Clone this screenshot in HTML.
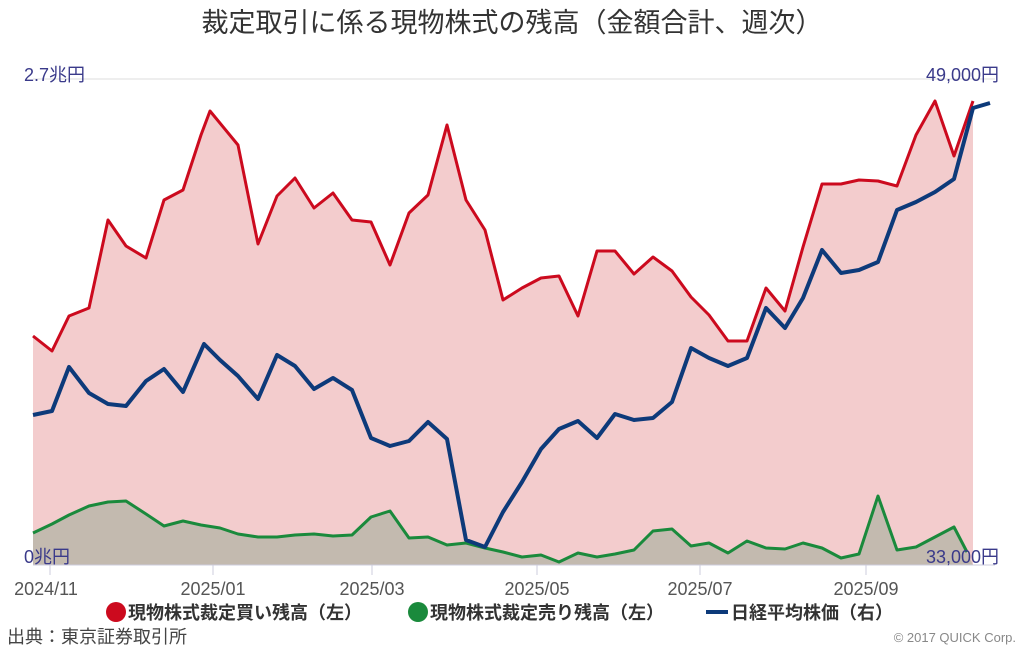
<!DOCTYPE html>
<html><head><meta charset="utf-8"><style>
body{margin:0;background:#fff;width:1024px;height:658px;overflow:hidden;font-family:"Liberation Sans","Noto Sans CJK JP",sans-serif}
</style></head><body>
<svg width="1024" height="658" xmlns="http://www.w3.org/2000/svg" style="font-family:'Liberation Sans','Noto Sans CJK JP',sans-serif">
<text x="512" y="32" text-anchor="middle" font-size="27" fill="#333">裁定取引に係る現物株式の残高（金額合計、週次）</text>
<line x1="33" y1="79" x2="995" y2="79" stroke="#ddd"/>
<polygon fill="#f3cccd" points="33,565 33,336 52,351 69,316 89,308 108,220 126,246 146,258 164,200 183,190 201,135 210,111 238,145 258,244 277,196 295,178 314,208 333,193 352,220 371,222 390,265 409,213 428,195 447,125 466,200 485,230 503,300 522,288 541,278 559,276 578,316 597,251 615,251 634,274 653,257 672,271 691,297 709,315 728,341 747,341 766,288 785,311 803,247 822,184 841,184 859,180 878,181 897,186 916,135 935,101 954,156 973,101 973,565"/>
<polygon fill="#c3baaf" points="33,565 33,533 52,524 69,515 89,506 108,502 126,501 146,514 164,526 183,521 201,525 220,528 238,534 258,537 277,537 295,535 314,534 333,536 352,535 371,517 390,511 409,538 428,537 447,545 466,543 485,548 503,552 522,557 541,555 559,562 578,553 597,557 615,554 634,550 653,531 672,529 691,546 709,543 728,553 747,541 766,548 785,549 803,543 822,548 841,558 859,554 878,496 897,550 916,547 935,537 954,527 967,552 973,565"/>
<line x1="33" y1="565" x2="995" y2="565" stroke="#ccd" />
<polyline fill="none" stroke="#cc0a1e" stroke-width="3" stroke-linejoin="round" points="33,336 52,351 69,316 89,308 108,220 126,246 146,258 164,200 183,190 201,135 210,111 238,145 258,244 277,196 295,178 314,208 333,193 352,220 371,222 390,265 409,213 428,195 447,125 466,200 485,230 503,300 522,288 541,278 559,276 578,316 597,251 615,251 634,274 653,257 672,271 691,297 709,315 728,341 747,341 766,288 785,311 803,247 822,184 841,184 859,180 878,181 897,186 916,135 935,101 954,156 973,101"/>
<polyline fill="none" stroke="#1a8a3c" stroke-width="3" stroke-linejoin="round" points="33,533 52,524 69,515 89,506 108,502 126,501 146,514 164,526 183,521 201,525 220,528 238,534 258,537 277,537 295,535 314,534 333,536 352,535 371,517 390,511 409,538 428,537 447,545 466,543 485,548 503,552 522,557 541,555 559,562 578,553 597,557 615,554 634,550 653,531 672,529 691,546 709,543 728,553 747,541 766,548 785,549 803,543 822,548 841,558 859,554 878,496 897,550 916,547 935,537 954,527 967,552"/>
<polyline fill="none" stroke="#0d3a7a" stroke-width="4" stroke-linejoin="round" points="33,415 52,411 69,367 89,393 108,404 126,406 146,381 164,369 183,392 204,344 220,360 238,376 258,399 277,355 295,366 314,389 333,378 352,390 371,438 390,446 409,441 428,422 447,439 466,540 485,547 503,512 522,482 541,449 559,429 578,421 597,438 615,414 634,420 653,418 672,402 691,348 709,358 728,366 747,358 766,308 785,328 803,298 822,250 841,273 859,270 878,262 897,210 916,202 935,192 954,179 973,108 990,103"/>
<g font-size="18" fill="#3a3a8a">
<text x="24" y="81">2.7兆円</text>
<text x="24" y="563">0兆円</text>
<text x="999" y="81" text-anchor="end">49,000円</text>
<text x="999" y="563" text-anchor="end">33,000円</text>
</g>
<g stroke="#ccd"><line x1="50" y1="565" x2="50" y2="575"/><line x1="213" y1="565" x2="213" y2="575"/><line x1="372" y1="565" x2="372" y2="575"/><line x1="537" y1="565" x2="537" y2="575"/><line x1="700" y1="565" x2="700" y2="575"/><line x1="866" y1="565" x2="866" y2="575"/></g>
<g font-size="18" fill="#555" text-anchor="middle">
<text x="46" y="595">2024/11</text><text x="213" y="595">2025/01</text><text x="372" y="595">2025/03</text><text x="537" y="595">2025/05</text><text x="700" y="595">2025/07</text><text x="866" y="595">2025/09</text>
</g>
<g font-size="18" font-weight="bold" fill="#333">
<circle cx="116" cy="612" r="10" fill="#cc0a1e"/><text x="128" y="619">現物株式裁定買い残高（左）</text>
<circle cx="418" cy="612" r="10" fill="#1a8a3c"/><text x="430" y="619">現物株式裁定売り残高（左）</text>
<rect x="706" y="610" width="22" height="4" fill="#0d3a7a"/><text x="731" y="619">日経平均株価（右）</text>
</g>
<text x="7" y="643" font-size="18" fill="#444">出典：東京証券取引所</text>
<text x="1016" y="642" font-size="13" fill="#888" text-anchor="end">© 2017 QUICK Corp.</text>
</svg>
</body></html>
